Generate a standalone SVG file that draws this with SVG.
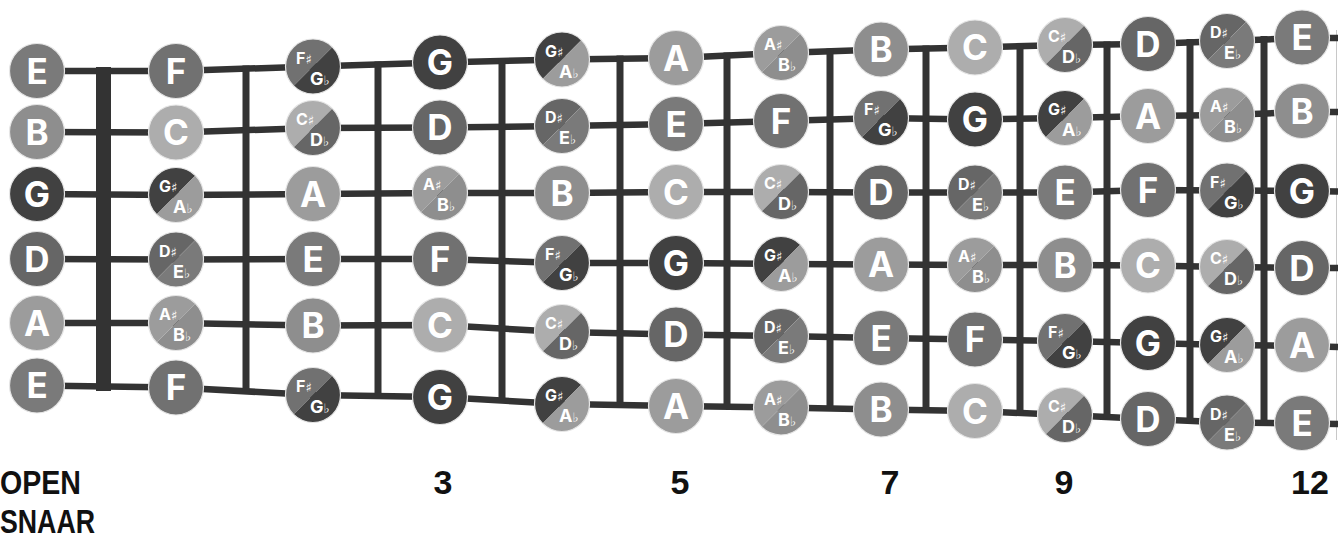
<svg xmlns="http://www.w3.org/2000/svg" xmlns:xlink="http://www.w3.org/1999/xlink" width="1338" height="542" viewBox="0 0 1338 542">
<style>
.str{fill:none;stroke:#333;stroke-width:6.5;stroke-linejoin:round}
.fret{stroke:#333;stroke-width:7}
.nut{stroke:#333;stroke-width:15}
.ring{stroke:#e6e6e6;stroke-width:1.2}
.cE{fill:#7a7a7a}.cF{fill:#717171}.cG{fill:#414141}.cA{fill:#9c9c9c}.cB{fill:#8e8e8e}.cC{fill:#adadad}.cD{fill:#666666}
.n{font-family:Inter,"Open Sans","DejaVu Sans",sans-serif;font-weight:700;font-size:35px;fill:#fff;text-anchor:middle}
.sh{font-family:Inter,"Open Sans","DejaVu Sans",sans-serif;font-weight:700;font-size:16px;fill:#fff}
.fl{font-family:Inter,"Open Sans","DejaVu Sans",sans-serif;font-weight:700;font-size:18px;fill:#fff}
.acc{font-family:"DejaVu Sans",sans-serif;font-weight:400;font-size:13px}
.lab{font-family:"Liberation Sans",Arial,sans-serif;font-weight:700;font-size:34px;fill:#111}
</style>
<defs>
<path id="tl" d="M19.45,-19.45 A27.5,27.5 0 0 0 -19.45,19.45 Z"/>
<path id="br" d="M19.45,-19.45 A27.5,27.5 0 0 1 -19.45,19.45 Z"/>
<circle id="rim" r="27.5" fill="none"/>
</defs>
<rect width="1338" height="542" fill="#fff"/>
<line x1="1336.5" y1="30" x2="1336.5" y2="440" stroke="#c8c8c8" stroke-width="1"/>
<g id="connectors">
<polyline class="str" points="37,71 176,71 313,66.5 440,62.5 562,59.5 676,58 781,53 881,49.5 975,47.5 1065,45 1148,44 1227,41 1302,38 1338,38"/>
<polyline class="str" points="37,132 176,132.5 313,128 440,127.5 562,126 676,124 781,121 881,118 975,119.5 1065,118 1148,116 1227,115 1302,112 1338,112"/>
<polyline class="str" points="37,194 176,195 313,194 440,193 562,193 676,192 781,192 881,192.5 975,192.5 1065,192.5 1148,190 1227,190.5 1302,191 1338,191.5"/>
<polyline class="str" points="37,259 176,259.5 313,259 440,259 562,263 676,263 781,264 881,264.5 975,265 1065,265 1148,265.5 1227,267 1302,268 1338,268"/>
<polyline class="str" points="37,323 176,323 313,325.5 440,325 562,332 676,334.5 781,336 881,338 975,339.5 1065,341 1148,343 1227,345 1302,346 1338,347"/>
<polyline class="str" points="37,385.5 176,387.5 313,395 440,397 562,404 676,406 781,407.5 881,409.5 975,411 1065,415 1148,419 1227,422.5 1302,423.5 1338,424"/>
<line class="nut" x1="103.5" y1="67" x2="103.5" y2="391"/>
<line class="fret" x1="246" y1="65.5" x2="246" y2="391"/>
<line class="fret" x1="378" y1="61.5" x2="378" y2="395"/>
<line class="fret" x1="502" y1="58" x2="502" y2="399"/>
<line class="fret" x1="620" y1="55.5" x2="620" y2="402"/>
<line class="fret" x1="727" y1="52.5" x2="727" y2="405"/>
<line class="fret" x1="830" y1="48.5" x2="830" y2="408.5"/>
<line class="fret" x1="926" y1="45.5" x2="926" y2="412"/>
<line class="fret" x1="1020" y1="43" x2="1020" y2="415"/>
<line class="fret" x1="1107" y1="41.5" x2="1107" y2="418.5"/>
<line class="fret" x1="1190" y1="39" x2="1190" y2="421.5"/>
<line class="fret" x1="1264" y1="36" x2="1264" y2="425"/>
</g>
<!-- String 1 -->
<g id="s1f0" transform="translate(37,71)"><circle r="27.5" class="cE ring"/><text class="n" y="12.5">E</text></g>
<g id="s1f1" transform="translate(176,71)"><circle r="27.5" class="cF ring"/><text class="n" y="12.5">F</text></g>
<g id="s1f2" transform="translate(313,66.5)"><use href="#tl" class="cF"/><use href="#br" class="cG"/><use href="#rim" class="ring"/><text class="sh" x="-17" y="-3">F<tspan class="acc">♯</tspan></text><text class="fl" x="-3" y="18">G<tspan class="acc">♭</tspan></text></g>
<g id="s1f3" transform="translate(440,62.5)"><circle r="27.5" class="cG ring"/><text class="n" y="12.5">G</text></g>
<g id="s1f4" transform="translate(562,59.5)"><use href="#tl" class="cG"/><use href="#br" class="cA"/><use href="#rim" class="ring"/><text class="sh" x="-17" y="-3">G<tspan class="acc">♯</tspan></text><text class="fl" x="-3" y="18">A<tspan class="acc">♭</tspan></text></g>
<g id="s1f5" transform="translate(676,58)"><circle r="27.5" class="cA ring"/><text class="n" y="12.5">A</text></g>
<g id="s1f6" transform="translate(781,53)"><use href="#tl" class="cA"/><use href="#br" class="cB"/><use href="#rim" class="ring"/><text class="sh" x="-17" y="-3">A<tspan class="acc">♯</tspan></text><text class="fl" x="-3" y="18">B<tspan class="acc">♭</tspan></text></g>
<g id="s1f7" transform="translate(881,49.5)"><circle r="27.5" class="cB ring"/><text class="n" y="12.5">B</text></g>
<g id="s1f8" transform="translate(975,47.5)"><circle r="27.5" class="cC ring"/><text class="n" y="12.5">C</text></g>
<g id="s1f9" transform="translate(1065,45)"><use href="#tl" class="cC"/><use href="#br" class="cD"/><use href="#rim" class="ring"/><text class="sh" x="-17" y="-3">C<tspan class="acc">♯</tspan></text><text class="fl" x="-3" y="18">D<tspan class="acc">♭</tspan></text></g>
<g id="s1f10" transform="translate(1148,44)"><circle r="27.5" class="cD ring"/><text class="n" y="12.5">D</text></g>
<g id="s1f11" transform="translate(1227,41)"><use href="#tl" class="cD"/><use href="#br" class="cE"/><use href="#rim" class="ring"/><text class="sh" x="-17" y="-3">D<tspan class="acc">♯</tspan></text><text class="fl" x="-3" y="18">E<tspan class="acc">♭</tspan></text></g>
<g id="s1f12" transform="translate(1302,37.5)"><circle r="27.5" class="cE ring"/><text class="n" y="12.5">E</text></g>
<!-- String 2 -->
<g id="s2f0" transform="translate(37,132)"><circle r="27.5" class="cB ring"/><text class="n" y="12.5">B</text></g>
<g id="s2f1" transform="translate(176,132.5)"><circle r="27.5" class="cC ring"/><text class="n" y="12.5">C</text></g>
<g id="s2f2" transform="translate(313,128)"><use href="#tl" class="cC"/><use href="#br" class="cD"/><use href="#rim" class="ring"/><text class="sh" x="-17" y="-3">C<tspan class="acc">♯</tspan></text><text class="fl" x="-3" y="18">D<tspan class="acc">♭</tspan></text></g>
<g id="s2f3" transform="translate(440,127.5)"><circle r="27.5" class="cD ring"/><text class="n" y="12.5">D</text></g>
<g id="s2f4" transform="translate(562,126)"><use href="#tl" class="cD"/><use href="#br" class="cE"/><use href="#rim" class="ring"/><text class="sh" x="-17" y="-3">D<tspan class="acc">♯</tspan></text><text class="fl" x="-3" y="18">E<tspan class="acc">♭</tspan></text></g>
<g id="s2f5" transform="translate(676,124)"><circle r="27.5" class="cE ring"/><text class="n" y="12.5">E</text></g>
<g id="s2f6" transform="translate(781,121)"><circle r="27.5" class="cF ring"/><text class="n" y="12.5">F</text></g>
<g id="s2f7" transform="translate(881,118)"><use href="#tl" class="cF"/><use href="#br" class="cG"/><use href="#rim" class="ring"/><text class="sh" x="-17" y="-3">F<tspan class="acc">♯</tspan></text><text class="fl" x="-3" y="18">G<tspan class="acc">♭</tspan></text></g>
<g id="s2f8" transform="translate(975,119.5)"><circle r="27.5" class="cG ring"/><text class="n" y="12.5">G</text></g>
<g id="s2f9" transform="translate(1065,118)"><use href="#tl" class="cG"/><use href="#br" class="cA"/><use href="#rim" class="ring"/><text class="sh" x="-17" y="-3">G<tspan class="acc">♯</tspan></text><text class="fl" x="-3" y="18">A<tspan class="acc">♭</tspan></text></g>
<g id="s2f10" transform="translate(1148,116)"><circle r="27.5" class="cA ring"/><text class="n" y="12.5">A</text></g>
<g id="s2f11" transform="translate(1227,115)"><use href="#tl" class="cA"/><use href="#br" class="cB"/><use href="#rim" class="ring"/><text class="sh" x="-17" y="-3">A<tspan class="acc">♯</tspan></text><text class="fl" x="-3" y="18">B<tspan class="acc">♭</tspan></text></g>
<g id="s2f12" transform="translate(1302,111)"><circle r="27.5" class="cB ring"/><text class="n" y="12.5">B</text></g>
<!-- String 3 -->
<g id="s3f0" transform="translate(37,194)"><circle r="27.5" class="cG ring"/><text class="n" y="12.5">G</text></g>
<g id="s3f1" transform="translate(176,195)"><use href="#tl" class="cG"/><use href="#br" class="cA"/><use href="#rim" class="ring"/><text class="sh" x="-17" y="-3">G<tspan class="acc">♯</tspan></text><text class="fl" x="-3" y="18">A<tspan class="acc">♭</tspan></text></g>
<g id="s3f2" transform="translate(313,194)"><circle r="27.5" class="cA ring"/><text class="n" y="12.5">A</text></g>
<g id="s3f3" transform="translate(440,193)"><use href="#tl" class="cA"/><use href="#br" class="cB"/><use href="#rim" class="ring"/><text class="sh" x="-17" y="-3">A<tspan class="acc">♯</tspan></text><text class="fl" x="-3" y="18">B<tspan class="acc">♭</tspan></text></g>
<g id="s3f4" transform="translate(562,193)"><circle r="27.5" class="cB ring"/><text class="n" y="12.5">B</text></g>
<g id="s3f5" transform="translate(676,192)"><circle r="27.5" class="cC ring"/><text class="n" y="12.5">C</text></g>
<g id="s3f6" transform="translate(781,192)"><use href="#tl" class="cC"/><use href="#br" class="cD"/><use href="#rim" class="ring"/><text class="sh" x="-17" y="-3">C<tspan class="acc">♯</tspan></text><text class="fl" x="-3" y="18">D<tspan class="acc">♭</tspan></text></g>
<g id="s3f7" transform="translate(881,192.5)"><circle r="27.5" class="cD ring"/><text class="n" y="12.5">D</text></g>
<g id="s3f8" transform="translate(975,192.5)"><use href="#tl" class="cD"/><use href="#br" class="cE"/><use href="#rim" class="ring"/><text class="sh" x="-17" y="-3">D<tspan class="acc">♯</tspan></text><text class="fl" x="-3" y="18">E<tspan class="acc">♭</tspan></text></g>
<g id="s3f9" transform="translate(1065,192.5)"><circle r="27.5" class="cE ring"/><text class="n" y="12.5">E</text></g>
<g id="s3f10" transform="translate(1148,190)"><circle r="27.5" class="cF ring"/><text class="n" y="12.5">F</text></g>
<g id="s3f11" transform="translate(1227,190.5)"><use href="#tl" class="cF"/><use href="#br" class="cG"/><use href="#rim" class="ring"/><text class="sh" x="-17" y="-3">F<tspan class="acc">♯</tspan></text><text class="fl" x="-3" y="18">G<tspan class="acc">♭</tspan></text></g>
<g id="s3f12" transform="translate(1302,191)"><circle r="27.5" class="cG ring"/><text class="n" y="12.5">G</text></g>
<!-- String 4 -->
<g id="s4f0" transform="translate(37,259)"><circle r="27.5" class="cD ring"/><text class="n" y="12.5">D</text></g>
<g id="s4f1" transform="translate(176,259.5)"><use href="#tl" class="cD"/><use href="#br" class="cE"/><use href="#rim" class="ring"/><text class="sh" x="-17" y="-3">D<tspan class="acc">♯</tspan></text><text class="fl" x="-3" y="18">E<tspan class="acc">♭</tspan></text></g>
<g id="s4f2" transform="translate(313,259)"><circle r="27.5" class="cE ring"/><text class="n" y="12.5">E</text></g>
<g id="s4f3" transform="translate(440,259)"><circle r="27.5" class="cF ring"/><text class="n" y="12.5">F</text></g>
<g id="s4f4" transform="translate(562,263)"><use href="#tl" class="cF"/><use href="#br" class="cG"/><use href="#rim" class="ring"/><text class="sh" x="-17" y="-3">F<tspan class="acc">♯</tspan></text><text class="fl" x="-3" y="18">G<tspan class="acc">♭</tspan></text></g>
<g id="s4f5" transform="translate(676,263)"><circle r="27.5" class="cG ring"/><text class="n" y="12.5">G</text></g>
<g id="s4f6" transform="translate(781,264)"><use href="#tl" class="cG"/><use href="#br" class="cA"/><use href="#rim" class="ring"/><text class="sh" x="-17" y="-3">G<tspan class="acc">♯</tspan></text><text class="fl" x="-3" y="18">A<tspan class="acc">♭</tspan></text></g>
<g id="s4f7" transform="translate(881,264.5)"><circle r="27.5" class="cA ring"/><text class="n" y="12.5">A</text></g>
<g id="s4f8" transform="translate(975,265)"><use href="#tl" class="cA"/><use href="#br" class="cB"/><use href="#rim" class="ring"/><text class="sh" x="-17" y="-3">A<tspan class="acc">♯</tspan></text><text class="fl" x="-3" y="18">B<tspan class="acc">♭</tspan></text></g>
<g id="s4f9" transform="translate(1065,265)"><circle r="27.5" class="cB ring"/><text class="n" y="12.5">B</text></g>
<g id="s4f10" transform="translate(1148,265.5)"><circle r="27.5" class="cC ring"/><text class="n" y="12.5">C</text></g>
<g id="s4f11" transform="translate(1227,267)"><use href="#tl" class="cC"/><use href="#br" class="cD"/><use href="#rim" class="ring"/><text class="sh" x="-17" y="-3">C<tspan class="acc">♯</tspan></text><text class="fl" x="-3" y="18">D<tspan class="acc">♭</tspan></text></g>
<g id="s4f12" transform="translate(1302,268)"><circle r="27.5" class="cD ring"/><text class="n" y="12.5">D</text></g>
<!-- String 5 -->
<g id="s5f0" transform="translate(37,323)"><circle r="27.5" class="cA ring"/><text class="n" y="12.5">A</text></g>
<g id="s5f1" transform="translate(176,323)"><use href="#tl" class="cA"/><use href="#br" class="cB"/><use href="#rim" class="ring"/><text class="sh" x="-17" y="-3">A<tspan class="acc">♯</tspan></text><text class="fl" x="-3" y="18">B<tspan class="acc">♭</tspan></text></g>
<g id="s5f2" transform="translate(313,325.5)"><circle r="27.5" class="cB ring"/><text class="n" y="12.5">B</text></g>
<g id="s5f3" transform="translate(440,325)"><circle r="27.5" class="cC ring"/><text class="n" y="12.5">C</text></g>
<g id="s5f4" transform="translate(562,332)"><use href="#tl" class="cC"/><use href="#br" class="cD"/><use href="#rim" class="ring"/><text class="sh" x="-17" y="-3">C<tspan class="acc">♯</tspan></text><text class="fl" x="-3" y="18">D<tspan class="acc">♭</tspan></text></g>
<g id="s5f5" transform="translate(676,334.5)"><circle r="27.5" class="cD ring"/><text class="n" y="12.5">D</text></g>
<g id="s5f6" transform="translate(781,336)"><use href="#tl" class="cD"/><use href="#br" class="cE"/><use href="#rim" class="ring"/><text class="sh" x="-17" y="-3">D<tspan class="acc">♯</tspan></text><text class="fl" x="-3" y="18">E<tspan class="acc">♭</tspan></text></g>
<g id="s5f7" transform="translate(881,338)"><circle r="27.5" class="cE ring"/><text class="n" y="12.5">E</text></g>
<g id="s5f8" transform="translate(975,339.5)"><circle r="27.5" class="cF ring"/><text class="n" y="12.5">F</text></g>
<g id="s5f9" transform="translate(1065,341)"><use href="#tl" class="cF"/><use href="#br" class="cG"/><use href="#rim" class="ring"/><text class="sh" x="-17" y="-3">F<tspan class="acc">♯</tspan></text><text class="fl" x="-3" y="18">G<tspan class="acc">♭</tspan></text></g>
<g id="s5f10" transform="translate(1148,343)"><circle r="27.5" class="cG ring"/><text class="n" y="12.5">G</text></g>
<g id="s5f11" transform="translate(1227,345)"><use href="#tl" class="cG"/><use href="#br" class="cA"/><use href="#rim" class="ring"/><text class="sh" x="-17" y="-3">G<tspan class="acc">♯</tspan></text><text class="fl" x="-3" y="18">A<tspan class="acc">♭</tspan></text></g>
<g id="s5f12" transform="translate(1302,345)"><circle r="27.5" class="cA ring"/><text class="n" y="12.5">A</text></g>
<!-- String 6 -->
<g id="s6f0" transform="translate(37,385.5)"><circle r="27.5" class="cE ring"/><text class="n" y="12.5">E</text></g>
<g id="s6f1" transform="translate(176,387.5)"><circle r="27.5" class="cF ring"/><text class="n" y="12.5">F</text></g>
<g id="s6f2" transform="translate(313,395)"><use href="#tl" class="cF"/><use href="#br" class="cG"/><use href="#rim" class="ring"/><text class="sh" x="-17" y="-3">F<tspan class="acc">♯</tspan></text><text class="fl" x="-3" y="18">G<tspan class="acc">♭</tspan></text></g>
<g id="s6f3" transform="translate(440,397)"><circle r="27.5" class="cG ring"/><text class="n" y="12.5">G</text></g>
<g id="s6f4" transform="translate(562,404)"><use href="#tl" class="cG"/><use href="#br" class="cA"/><use href="#rim" class="ring"/><text class="sh" x="-17" y="-3">G<tspan class="acc">♯</tspan></text><text class="fl" x="-3" y="18">A<tspan class="acc">♭</tspan></text></g>
<g id="s6f5" transform="translate(676,406)"><circle r="27.5" class="cA ring"/><text class="n" y="12.5">A</text></g>
<g id="s6f6" transform="translate(781,407.5)"><use href="#tl" class="cA"/><use href="#br" class="cB"/><use href="#rim" class="ring"/><text class="sh" x="-17" y="-3">A<tspan class="acc">♯</tspan></text><text class="fl" x="-3" y="18">B<tspan class="acc">♭</tspan></text></g>
<g id="s6f7" transform="translate(881,409.5)"><circle r="27.5" class="cB ring"/><text class="n" y="12.5">B</text></g>
<g id="s6f8" transform="translate(975,411)"><circle r="27.5" class="cC ring"/><text class="n" y="12.5">C</text></g>
<g id="s6f9" transform="translate(1065,415)"><use href="#tl" class="cC"/><use href="#br" class="cD"/><use href="#rim" class="ring"/><text class="sh" x="-17" y="-3">C<tspan class="acc">♯</tspan></text><text class="fl" x="-3" y="18">D<tspan class="acc">♭</tspan></text></g>
<g id="s6f10" transform="translate(1148,419)"><circle r="27.5" class="cD ring"/><text class="n" y="12.5">D</text></g>
<g id="s6f11" transform="translate(1227,422.5)"><use href="#tl" class="cD"/><use href="#br" class="cE"/><use href="#rim" class="ring"/><text class="sh" x="-17" y="-3">D<tspan class="acc">♯</tspan></text><text class="fl" x="-3" y="18">E<tspan class="acc">♭</tspan></text></g>
<g id="s6f12" transform="translate(1302,423)"><circle r="27.5" class="cE ring"/><text class="n" y="12.5">E</text></g>
<!-- Labels -->
<g id="labels">
<text class="lab" x="0" y="494" textLength="81" lengthAdjust="spacingAndGlyphs">OPEN</text>
<text class="lab" x="0" y="533" font-size="32" textLength="95" lengthAdjust="spacingAndGlyphs">SNAAR</text>
<text class="lab" x="443" y="494" text-anchor="middle">3</text>
<text class="lab" x="680" y="494" text-anchor="middle">5</text>
<text class="lab" x="890" y="494" text-anchor="middle">7</text>
<text class="lab" x="1064" y="494" text-anchor="middle">9</text>
<text class="lab" x="1310" y="494" text-anchor="middle">12</text>
</g>
</svg>
